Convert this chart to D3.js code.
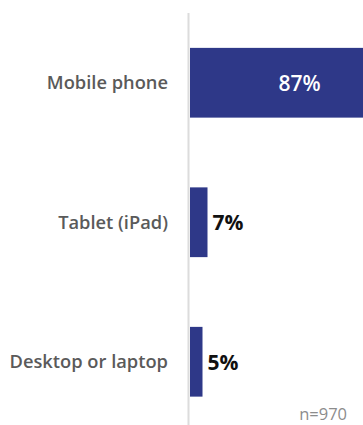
<!DOCTYPE html>
<html><head><meta charset="utf-8">
<script src="https://cdnjs.cloudflare.com/ajax/libs/d3/7.8.5/d3.min.js"></script>
<style>
html,body{margin:0;padding:0;background:#fff;}
svg{display:block;font-family:"Open Sans",sans-serif;}
</style></head>
<body><div id="chart"></div>
<script>
const categories = ["Mobile phone", "Tablet (iPad)", "Desktop or laptop"];
const values = [87, 7, 5];
const valueLabels = ["87%", "7%", "5%"];
const note = "n=970";

const W = 363, H = 425;
const svg = d3.select("#chart").append("svg").attr("width", W).attr("height", H);

const x0 = 190;
const x = d3.scaleLinear().domain([0, 100]).range([x0, x0 + 250]);
const y = d3.scaleBand().domain(categories).range([13, 431.5]).paddingInner(0.5).paddingOuter(0.25);

// axis line
svg.append("line").attr("x1", 188.5).attr("x2", 188.5).attr("y1", 13).attr("y2", H)
  .attr("stroke", "#dcdcdc").attr("stroke-width", 2);

svg.selectAll("rect.bar").data(categories).join("rect").attr("class", "bar")
  .attr("x", x(0)).attr("y", d => y(d))
  .attr("width", (d, i) => x(values[i]) - x(0)).attr("height", y.bandwidth())
  .attr("fill", "#2e3888");

svg.selectAll("text.cat").data(categories).join("text").attr("class", "cat")
  .attr("x", 168).attr("y", d => y(d) + y.bandwidth() / 2).attr("dy", "0.35em")
  .attr("text-anchor", "end").attr("font-size", 18.3).attr("font-weight", 600)
  .attr("fill", "#5a5a5a").text(d => d);

svg.selectAll("text.val").data(categories).join("text").attr("class", "val")
  .attr("x", (d, i) => values[i] > 20 ? (x(0) + Math.min(x(values[i]), W)) / 2 + 23 : x(values[i]) + 5)
  .attr("y", d => y(d) + y.bandwidth() / 2).attr("dy", "0.38em")
  .attr("text-anchor", (d, i) => values[i] > 20 ? "middle" : "start")
  .attr("font-size", 21).attr("font-weight", (d, i) => values[i] > 20 ? 600 : 700)
  .attr("fill", (d, i) => values[i] > 20 ? "#fff" : "#111")
  .text((d, i) => valueLabels[i]);

svg.append("text").attr("x", 347).attr("y", 420).attr("text-anchor", "end")
  .attr("font-size", 16.5).attr("fill", "#8c8c8c").text(note);
</script></body></html>
